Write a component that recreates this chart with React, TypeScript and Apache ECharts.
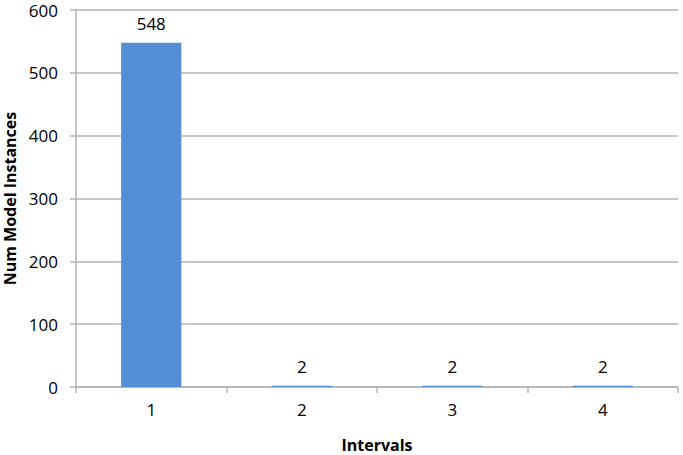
import React, { useEffect, useRef } from "react";
import * as echarts from "echarts";

const categories = ["1", "2", "3", "4"];
const values = [548, 2, 2, 2];
const yTicks = { min: 0, max: 600, interval: 100 };

export default function App() {
  const ref = useRef<HTMLDivElement>(null);
  useEffect(() => {
    if (!ref.current) return;
    const chart = echarts.init(ref.current, undefined, { renderer: "svg" });
    const grey = "#b3b3b3";
    const font = "Open Sans";
    chart.setOption({
      animation: false,
      backgroundColor: "#ffffff",
      grid: { left: 76, right: 5, top: 10, bottom: 68, containLabel: false, outerBoundsMode: "none" },
      xAxis: {
        type: "category",
        data: categories,
        name: "Intervals",
        nameLocation: "middle",
        nameGap: 50,
        nameTextStyle: { fontFamily: font, fontWeight: "bold", fontSize: 16, color: "#000" },
        axisLine: { lineStyle: { color: grey, width: 1.5 } },
        axisTick: { show: true, length: 6, lineStyle: { color: grey, width: 1.5 } },
        axisLabel: { fontFamily: font, fontSize: 17, color: "#000", margin: 14 },
      },
      yAxis: {
        type: "value",
        min: yTicks.min,
        max: yTicks.max,
        interval: yTicks.interval,
        name: "Num Model Instances",
        nameLocation: "middle",
        nameGap: 56,
        nameTextStyle: { fontFamily: font, fontWeight: "bold", fontSize: 16, color: "#000" },
        axisLine: { show: true, lineStyle: { color: grey, width: 1.5 } },
        axisTick: { show: true, length: 6, lineStyle: { color: grey, width: 1.5 } },
        axisLabel: { fontFamily: font, fontSize: 17, color: "#000", margin: 18 },
        splitLine: { lineStyle: { color: grey, width: 1.5 } },
      },
      series: [
        {
          type: "bar",
          data: values,
          barWidth: "40%",
          itemStyle: { color: "#558ed5" },
          label: {
            show: true,
            position: "top",
            distance: 11,
            fontFamily: font,
            fontSize: 17,
            color: "#000",
          },
        },
      ],
    });
    return () => chart.dispose();
  }, []);
  return <div ref={ref} style={{ width: 683, height: 455, position: "absolute", left: 0, top: 0 }} />;
}
